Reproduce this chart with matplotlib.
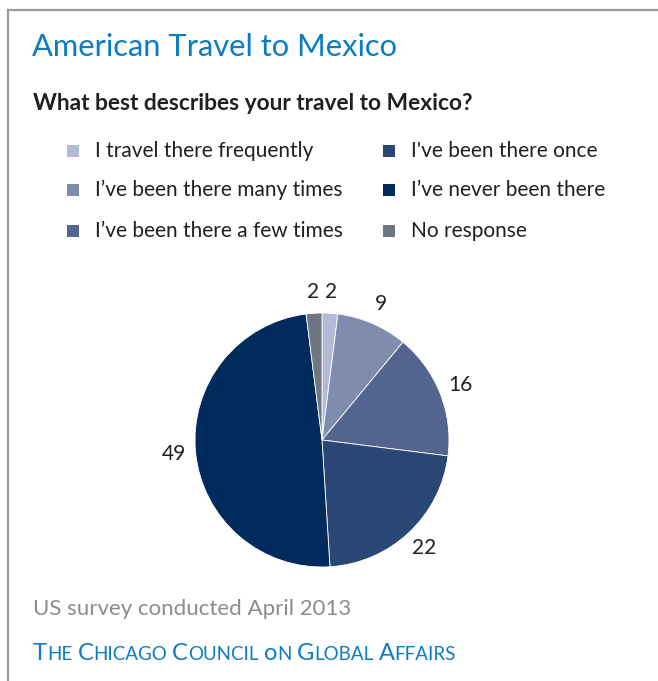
import matplotlib
matplotlib.use("Agg")
import matplotlib.pyplot as plt
from matplotlib.patches import Rectangle
from matplotlib.lines import Line2D

categories = [
    "I travel there frequently",
    "I\u2019ve been there many times",
    "I\u2019ve been there a few times",
    "I've been there once",
    "I\u2019ve never been there",
    "No response",
]
values = [2, 9, 16, 22, 49, 2]
colors = ["#b3bad3", "#7f8cae", "#53658e", "#294674", "#002b5c", "#6e7682"]

title = "American Travel to Mexico"
question = "What best describes your travel to Mexico?"
source = "US survey conducted April 2013"
org = "The Chicago Council on Global Affairs"

FONT = "Lato"
BLUE = "#0a7dc2"
DARK = "#231f20"

W, H = 658, 681
fig = plt.figure(figsize=(W / 100, H / 100), dpi=100)
fig.patch.set_facecolor("white")


def fx(px):
    return px / W


def fy(py):
    return 1 - py / H


# frame: top and left rules
fig.add_artist(Line2D([fx(8), 1], [fy(9.5), fy(9.5)], color="#9a9a9a", lw=1.6))
fig.add_artist(Line2D([fx(8), fx(8)], [fy(9.5), 0], color="#9a9a9a", lw=1.6))

fig.text(fx(32), fy(47), title, fontsize=22.2, color=BLUE, family=FONT,
         va="center", ha="left")
fig.text(fx(33), fy(103), question, fontsize=16.4, color=DARK, family=FONT,
         fontweight="bold", va="center", ha="left")

# legend in two columns
col_x = [67, 383]
row_y = [151, 190, 231]
for i, (lab, c) in enumerate(zip(categories, colors)):
    col, row = divmod(i, 3)
    x0 = col_x[col]
    y0 = row_y[row]
    fig.add_artist(Rectangle((fx(x0), fy(y0 + 6)), fx(12), 12 / H,
                             facecolor=c, edgecolor="none"))
    fig.text(fx(x0 + 28), fy(y0), lab, fontsize=15, color=DARK, family=FONT,
             va="center", ha="left")

# pie
cx, cy, r = 322, 440, 127
ax = fig.add_axes([fx(cx - r), fy(cy + r), 2 * r / W, 2 * r / H])
wedges, texts = ax.pie(
    values, colors=colors, labels=[str(v) for v in values],
    startangle=90, counterclock=False, radius=1.0, labeldistance=1.17,
    wedgeprops=dict(edgecolor="white", linewidth=0.6),
    textprops=dict(fontsize=15, color=DARK, family=FONT),
)
for t in texts:
    t.set_ha("center")
    t.set_va("center")
ax.set_xlim(-1, 1)
ax.set_ylim(-1, 1)
ax.set_aspect("equal")
ax.axis("off")

fig.text(fx(33), fy(609), source, fontsize=16, color="#8c8c8c", family=FONT,
         va="center", ha="left")

# small-caps organisation line
renderer = fig.canvas.get_renderer()
x = fx(33)
ybase = fy(660)
big, small = 17, 13.5
for wi, word in enumerate(org.split(" ")):
    if wi:
        x += 5.2 / W
    pieces = [(word[0], big), (word[1:].upper(), small)] if len(word) > 1 else [(word, big)]
    for txt, fs in pieces:
        t = fig.text(x, ybase, txt, fontsize=fs, color=BLUE, family=FONT,
                     va="baseline", ha="left")
        bb = t.get_window_extent(renderer=renderer)
        x += bb.width / W

fig.savefig("out.png", dpi=100, facecolor="white")
